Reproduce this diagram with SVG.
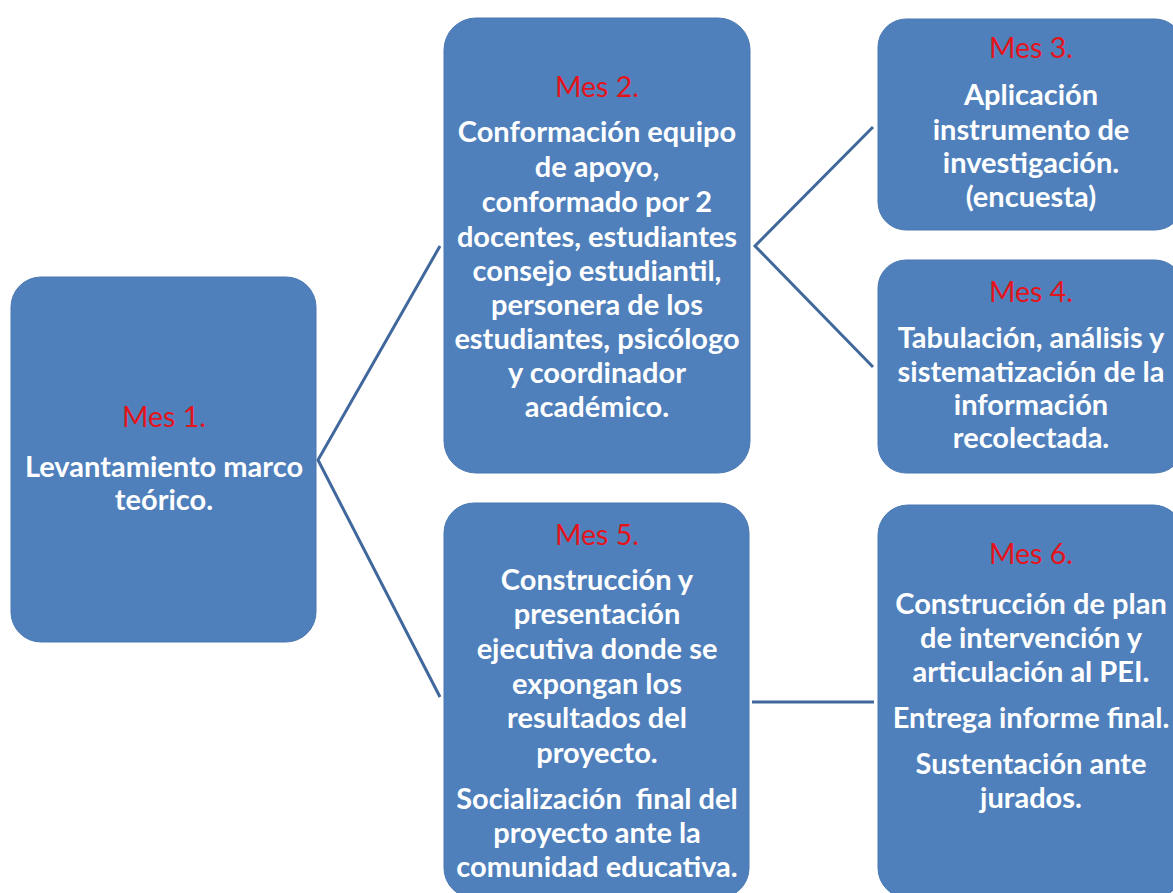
<svg xmlns="http://www.w3.org/2000/svg" width="1173" height="893" viewBox="0 0 1173 893">
<style>
.box{fill:#4f80bc;stroke:#4a78b2;stroke-width:1}
.t{font-family:Lato,"Open Sans","Liberation Sans",sans-serif;font-weight:700;font-size:29px;fill:#ffffff;text-anchor:middle}
.m{fill:#e3141b;font-weight:400;font-size:28.5px}
.c{stroke:#40689c;stroke-width:3;fill:none}
</style>
<rect width="1173" height="893" fill="#ffffff"/>
<g id="connectors">
<polyline class="c" points="440,246 318,460 440,697"/>
<polyline class="c" points="873,127 755,246 873,367"/>
<line class="c" x1="752" y1="702" x2="874" y2="702"/>
</g>
<g id="mes1">
<rect class="box" x="11" y="277" width="305" height="365" rx="30"/>
<text class="t m" x="164" y="427">Mes 1.</text>
<text class="t" x="164" y="477">Levantamiento marco</text>
<text class="t" x="164" y="510">teórico.</text>
</g>
<g id="mes2">
<rect class="box" x="444" y="18" width="306" height="455" rx="32"/>
<text class="t m" x="597" y="97">Mes 2.</text>
<text class="t" x="597" y="142">Conformación equipo</text>
<text class="t" x="597" y="177">de apoyo,</text>
<text class="t" x="597" y="212">conformado por 2</text>
<text class="t" x="597" y="247">docentes, estudiantes</text>
<text class="t" x="597" y="281">consejo estudiantil,</text>
<text class="t" x="597" y="315">personera de los</text>
<text class="t" x="597" y="349">estudiantes, psicólogo</text>
<text class="t" x="597" y="383">y coordinador</text>
<text class="t" x="597" y="417">académico.</text>
</g>
<g id="mes3">
<rect class="box" x="878" y="19" width="305" height="211" rx="28"/>
<text class="t m" x="1031" y="58">Mes 3.</text>
<text class="t" x="1031" y="105">Aplicación</text>
<text class="t" x="1031" y="140">instrumento de</text>
<text class="t" x="1031" y="173">investigación.</text>
<text class="t" x="1031" y="207">(encuesta)</text>
</g>
<g id="mes4">
<rect class="box" x="878" y="260" width="305" height="213" rx="28"/>
<text class="t m" x="1031" y="302">Mes 4.</text>
<text class="t" x="1031" y="348">Tabulación, análisis y</text>
<text class="t" x="1031" y="382">sistematización de la</text>
<text class="t" x="1031" y="415">información</text>
<text class="t" x="1031" y="448">recolectada.</text>
</g>
<g id="mes5">
<rect class="box" x="444" y="503" width="305" height="395" rx="30"/>
<text class="t m" x="597" y="545">Mes 5.</text>
<text class="t" x="597" y="590">Construcción y</text>
<text class="t" x="597" y="624">presentación</text>
<text class="t" x="597" y="659">ejecutiva donde se</text>
<text class="t" x="597" y="694">expongan los</text>
<text class="t" x="597" y="728">resultados del</text>
<text class="t" x="597" y="763">proyecto.</text>
<text class="t" x="597" y="809" style="white-space:pre">Socialización  final del</text>
<text class="t" x="597" y="843">proyecto ante la</text>
<text class="t" x="597" y="877">comunidad educativa.</text>
</g>
<g id="mes6">
<rect class="box" x="878" y="505" width="305" height="393" rx="30"/>
<text class="t m" x="1031" y="564">Mes 6.</text>
<text class="t" x="1031" y="614">Construcción de plan</text>
<text class="t" x="1031" y="648">de intervención y</text>
<text class="t" x="1031" y="682">articulación al PEI.</text>
<text class="t" x="1031" y="728">Entrega informe final.</text>
<text class="t" x="1031" y="774">Sustentación ante</text>
<text class="t" x="1031" y="808">jurados.</text>
</g>
</svg>
